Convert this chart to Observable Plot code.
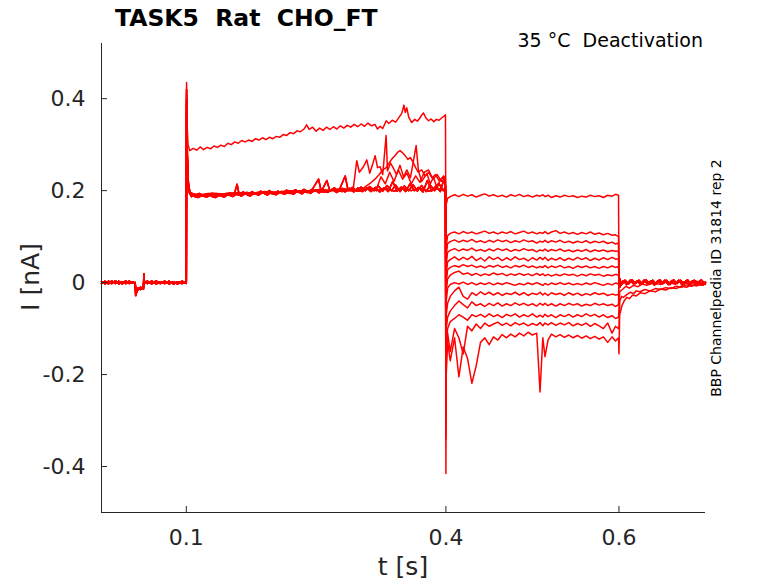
<!DOCTYPE html>
<html>
<head>
<meta charset="utf-8">
<script src="https://cdn.jsdelivr.net/npm/d3@7"></script>
<script src="https://cdn.jsdelivr.net/npm/@observablehq/plot@0.6"></script>
<style>
  html, body { margin: 0; padding: 0; background: white; }
  #wrap { position: relative; width: 778px; height: 583px; }
  #wrap > svg { position: absolute; left: 0; top: 0; }
  #overlay { position: absolute; left: 0; top: 0; pointer-events: none; }
  #overlay text { white-space: pre; font-family: "DejaVu Sans", sans-serif; }
</style>
</head>
<body>
<div id="wrap"></div>
<script>
// ---- axes ----
const xDomain = [0.002, 0.7];
const yDomain = [-0.5, 0.52];
const xTicks = [0.1, 0.4, 0.6];
const yTicks = [-0.4, -0.2, 0, 0.2, 0.4];

// ---- holding period (0 - 0.1 s) ----
const tBase = [0.002,0.006,0.01,0.014,0.018,0.022,0.026,0.03,0.034,0.038,0.041,0.0415,0.044,0.047,0.0505,0.051,0.0515,0.055,0.06,0.065,0.07,0.075,0.08,0.085,0.09,0.095,0.0998];
const baseA = [0.002,-0.003,0.003,-0.002,0.004,-0.003,0.002,-0.002,0.003,-0.001,0.0,-0.028,-0.012,-0.015,-0.01,0.019,0.003,-0.002,0.003,-0.003,0.002,-0.002,0.003,-0.003,0.002,-0.002,0.001];
const baseB = [-0.002,0.003,-0.003,0.004,-0.002,0.003,-0.003,0.004,-0.002,0.002,-0.003,-0.02,-0.016,-0.01,-0.014,0.014,-0.002,0.003,-0.003,0.004,-0.002,0.003,-0.003,0.002,-0.003,0.003,-0.001];

// ---- activation step (0.1 - 0.4 s), [t, I] ----
const actTop = [[0.1,0.002],[0.1003,0.435],[0.101,0.34],[0.102,0.30],[0.104,0.287],[0.108,0.292],[0.112,0.288],[0.116,0.295],[0.12,0.289],[0.124,0.294],[0.128,0.291],[0.132,0.297],[0.136,0.294],[0.14,0.299],[0.144,0.296],[0.148,0.303],[0.152,0.3],[0.156,0.306],[0.16,0.303],[0.164,0.309],[0.168,0.306],[0.172,0.31],[0.176,0.307],[0.18,0.313],[0.184,0.31],[0.188,0.315],[0.192,0.311],[0.196,0.316],[0.2,0.313],[0.204,0.318],[0.208,0.316],[0.212,0.322],[0.216,0.32],[0.22,0.326],[0.224,0.324],[0.228,0.33],[0.232,0.328],[0.236,0.334],[0.239,0.343],[0.242,0.333],[0.246,0.338],[0.25,0.329],[0.254,0.336],[0.258,0.331],[0.262,0.338],[0.266,0.333],[0.27,0.339],[0.274,0.334],[0.278,0.341],[0.282,0.336],[0.286,0.342],[0.29,0.338],[0.294,0.344],[0.298,0.339],[0.302,0.345],[0.306,0.34],[0.31,0.347],[0.314,0.341],[0.318,0.344],[0.321,0.334],[0.324,0.34],[0.327,0.335],[0.331,0.352],[0.334,0.346],[0.338,0.353],[0.342,0.349],[0.346,0.36],[0.349,0.368],[0.3515,0.386],[0.353,0.37],[0.3548,0.38],[0.357,0.36],[0.3605,0.348],[0.364,0.355],[0.367,0.351],[0.37,0.358],[0.372,0.364],[0.374,0.369],[0.377,0.358],[0.38,0.352],[0.383,0.356],[0.386,0.35],[0.389,0.355],[0.392,0.353],[0.395,0.358],[0.398,0.362],[0.3995,0.365]];
const actBandA = [[0.1,0.002],[0.1003,0.42],[0.101,0.3],[0.102,0.23],[0.103,0.205],[0.105,0.195],[0.11,0.19],[0.115,0.194],[0.12,0.189],[0.13,0.193],[0.14,0.19],[0.15,0.195],[0.16,0.191],[0.17,0.196],[0.18,0.192],[0.19,0.197],[0.2,0.193],[0.21,0.198],[0.22,0.194],[0.23,0.199],[0.24,0.196],[0.25,0.2],[0.26,0.197],[0.27,0.202],[0.28,0.198],[0.29,0.203],[0.3,0.199],[0.31,0.204],[0.32,0.2],[0.33,0.205],[0.34,0.199],[0.35,0.204],[0.36,0.2],[0.37,0.205],[0.38,0.199],[0.39,0.204],[0.3995,0.201]];
const actBandB = [[0.1,-0.002],[0.1003,0.4],[0.101,0.28],[0.102,0.22],[0.104,0.198],[0.107,0.19],[0.111,0.186],[0.116,0.191],[0.121,0.187],[0.126,0.192],[0.131,0.186],[0.136,0.193],[0.141,0.188],[0.146,0.194],[0.151,0.189],[0.156,0.196],[0.1587,0.214],[0.161,0.192],[0.166,0.197],[0.171,0.19],[0.176,0.198],[0.181,0.192],[0.186,0.199],[0.191,0.193],[0.196,0.2],[0.201,0.193],[0.206,0.199],[0.211,0.194],[0.216,0.201],[0.221,0.195],[0.226,0.202],[0.231,0.196],[0.236,0.203],[0.241,0.197],[0.246,0.204],[0.2528,0.225],[0.256,0.198],[0.2624,0.222],[0.266,0.199],[0.271,0.206],[0.276,0.198],[0.2836,0.232],[0.287,0.2],[0.292,0.207],[0.297,0.199],[0.302,0.208],[0.307,0.2],[0.312,0.209],[0.317,0.2],[0.322,0.21],[0.327,0.199],[0.332,0.211],[0.337,0.2],[0.342,0.212],[0.347,0.198],[0.352,0.21],[0.357,0.2],[0.362,0.213],[0.367,0.199],[0.372,0.211],[0.377,0.198],[0.382,0.212],[0.387,0.2],[0.392,0.215],[0.397,0.2],[0.3995,0.208]];
const actBandC = [[0.1,0.001],[0.1003,0.39],[0.1008,0.3],[0.102,0.21],[0.1035,0.195],[0.106,0.187],[0.1085,0.192],[0.1135,0.185],[0.1185,0.19],[0.1235,0.186],[0.1285,0.191],[0.1335,0.185],[0.1385,0.19],[0.1435,0.186],[0.1485,0.192],[0.1535,0.187],[0.1585,0.193],[0.1635,0.188],[0.1685,0.194],[0.1735,0.188],[0.1785,0.195],[0.1835,0.19],[0.1885,0.196],[0.1935,0.19],[0.1985,0.197],[0.2035,0.191],[0.2085,0.197],[0.2135,0.192],[0.2185,0.198],[0.2235,0.192],[0.2285,0.199],[0.2335,0.193],[0.2385,0.2],[0.2435,0.194],[0.2485,0.201],[0.2535,0.195],[0.2585,0.202],[0.2635,0.196],[0.2685,0.203],[0.2735,0.196],[0.2785,0.204],[0.2835,0.197],[0.2885,0.205],[0.2935,0.197],[0.2985,0.206],[0.3035,0.198],[0.3085,0.206],[0.3135,0.198],[0.3185,0.207],[0.3235,0.197],[0.3285,0.206],[0.3335,0.198],[0.3385,0.22],[0.3435,0.199],[0.3485,0.208],[0.3535,0.198],[0.3585,0.215],[0.3635,0.2],[0.3685,0.207],[0.3735,0.197],[0.3785,0.222],[0.3835,0.199],[0.3885,0.21],[0.3935,0.198],[0.3985,0.23],[0.3995,0.205]];
const actBumpy1 = [[0.1,0.0],[0.1003,0.41],[0.101,0.29],[0.102,0.22],[0.104,0.196],[0.11,0.192],[0.12,0.19],[0.135,0.194],[0.15,0.192],[0.165,0.196],[0.18,0.194],[0.195,0.198],[0.21,0.196],[0.225,0.2],[0.24,0.198],[0.255,0.203],[0.27,0.2],[0.28,0.205],[0.29,0.201],[0.293,0.205],[0.297,0.265],[0.3,0.24],[0.3047,0.252],[0.3086,0.267],[0.312,0.238],[0.315,0.255],[0.3182,0.276],[0.321,0.25],[0.324,0.252],[0.327,0.235],[0.3309,0.32],[0.3325,0.243],[0.336,0.26],[0.339,0.25],[0.343,0.235],[0.347,0.255],[0.351,0.23],[0.355,0.245],[0.359,0.228],[0.3656,0.298],[0.3683,0.243],[0.372,0.22],[0.378,0.237],[0.382,0.215],[0.3856,0.229],[0.389,0.21],[0.393,0.22],[0.3972,0.232],[0.3995,0.21]];
const actBumpy2 = [[0.1,0.003],[0.1003,0.38],[0.101,0.27],[0.102,0.215],[0.104,0.195],[0.115,0.19],[0.13,0.195],[0.145,0.191],[0.16,0.196],[0.175,0.193],[0.19,0.198],[0.205,0.195],[0.22,0.2],[0.235,0.197],[0.25,0.202],[0.265,0.199],[0.28,0.204],[0.295,0.2],[0.305,0.206],[0.312,0.215],[0.318,0.225],[0.323,0.235],[0.327,0.245],[0.331,0.25],[0.335,0.262],[0.338,0.27],[0.341,0.276],[0.344,0.283],[0.347,0.287],[0.35,0.282],[0.353,0.276],[0.356,0.268],[0.359,0.272],[0.362,0.262],[0.365,0.25],[0.368,0.24],[0.372,0.245],[0.376,0.232],[0.38,0.24],[0.384,0.228],[0.388,0.235],[0.392,0.222],[0.396,0.228],[0.3995,0.215]];
const actBumpy3 = [[0.1,-0.001],[0.1003,0.37],[0.101,0.26],[0.102,0.212],[0.104,0.194],[0.112,0.189],[0.125,0.194],[0.14,0.19],[0.155,0.195],[0.17,0.192],[0.185,0.197],[0.2,0.194],[0.215,0.199],[0.23,0.196],[0.245,0.201],[0.26,0.198],[0.275,0.203],[0.29,0.199],[0.305,0.204],[0.32,0.205],[0.325,0.23],[0.33,0.215],[0.335,0.24],[0.34,0.22],[0.345,0.245],[0.35,0.225],[0.355,0.238],[0.36,0.215],[0.365,0.232],[0.37,0.218],[0.375,0.24],[0.38,0.245],[0.385,0.225],[0.39,0.235],[0.395,0.22],[0.3995,0.225]];

// ---- deactivation steps (0.4 - 0.6 s) ----
const tDeact = [0.4,0.4004,0.402,0.405,0.41, 0.415,0.42,0.425,0.43,0.435, 0.44,0.445,0.45,0.455,0.46, 0.465,0.47,0.475,0.48,0.485, 0.49,0.495,0.5,0.505,0.5088, 0.512,0.5145,0.518,0.522,0.527, 0.532,0.537,0.542,0.547,0.552, 0.557,0.562,0.567,0.572,0.577, 0.582,0.587,0.592,0.596,0.5995];
const deact0 = [0.05,0.17,0.183,0.187,0.191, 0.187,0.192,0.188,0.191,0.186, 0.19,0.193,0.188,0.191,0.187, 0.19,0.186,0.191,0.188,0.192, 0.187,0.19,0.186,0.19,0.188, 0.191,0.187,0.19,0.185,0.189, 0.186,0.19,0.187,0.189,0.185, 0.188,0.186,0.19,0.187,0.189, 0.185,0.19,0.188,0.192,0.19];
const deact1 = [-0.02,0.08,0.102,0.107,0.11, 0.106,0.111,0.107,0.11,0.106, 0.109,0.112,0.107,0.11,0.106, 0.11,0.107,0.111,0.106,0.109, 0.112,0.107,0.11,0.106,0.109, 0.107,0.111,0.106,0.11,0.113, 0.107,0.11,0.106,0.109,0.105, 0.109,0.106,0.11,0.105,0.108, 0.104,0.107,0.103,0.104,0.1];
const deact2 = [-0.05,0.06,0.085,0.089,0.093, 0.088,0.092,0.089,0.094,0.088, 0.091,0.087,0.092,0.088,0.093, 0.089,0.092,0.087,0.091,0.088, 0.093,0.089,0.091,0.086,0.09, 0.088,0.092,0.087,0.091,0.088, 0.092,0.087,0.09,0.086,0.09, 0.087,0.091,0.086,0.09,0.087, 0.09,0.085,0.088,0.084,0.086];
const deact3 = [-0.08,0.04,0.066,0.07,0.074, 0.069,0.073,0.07,0.075,0.069, 0.072,0.068,0.073,0.069,0.074, 0.07,0.073,0.068,0.072,0.069, 0.074,0.07,0.072,0.067,0.071, 0.069,0.073,0.068,0.072,0.069, 0.073,0.068,0.071,0.067,0.071, 0.068,0.072,0.067,0.071,0.068, 0.071,0.067,0.07,0.068,0.069];
const deact4 = [-0.11,0.02,0.045,0.05,0.056, 0.049,0.055,0.05,0.057,0.048, 0.054,0.047,0.056,0.05,0.055, 0.048,0.054,0.049,0.056,0.05, 0.053,0.047,0.054,0.049,0.055, 0.05,0.055,0.048,0.053,0.049, 0.054,0.048,0.053,0.049,0.055, 0.05,0.054,0.048,0.053,0.049, 0.054,0.05,0.055,0.051,0.052];
const deact5 = [-0.14,0.0,0.028,0.033,0.037, 0.034,0.039,0.035,0.038,0.033, 0.036,0.032,0.037,0.034,0.038, 0.033,0.036,0.032,0.037,0.034, 0.038,0.033,0.036,0.032,0.035, 0.033,0.037,0.032,0.036,0.033, 0.037,0.032,0.035,0.031,0.036, 0.033,0.036,0.032,0.035,0.031, 0.035,0.032,0.036,0.033,0.035];
const deact6 = [-0.17,-0.02,0.008,0.016,0.022, 0.025,0.018,0.021,0.016,0.02, 0.015,0.019,0.016,0.021,0.017, 0.02,0.015,0.019,0.016,0.02, 0.016,0.019,0.015,0.02,0.016, 0.019,0.015,0.018,0.014,0.018, 0.015,0.019,0.016,0.018,0.014, 0.018,0.015,0.019,0.016,0.018, 0.014,0.017,0.015,0.018,0.016];
const deact7 = [-0.2,-0.04,-0.012,-0.004,0.0, -0.003,0.001,-0.004,0.0,-0.005, -0.001,-0.004,0.0,-0.005,-0.001, -0.004,0.0,-0.003,-0.006,-0.002, -0.005,-0.001,-0.004,0.0,-0.003, -0.006,-0.002,-0.005,-0.001,-0.004, 0.0,-0.004,-0.001,-0.005,-0.002, -0.005,-0.001,-0.004,0.0,-0.003, -0.006,-0.002,-0.005,-0.001,-0.003];
const deact8 = [-0.23,-0.07,-0.045,-0.03,-0.018, -0.01,-0.03,-0.036,-0.022,-0.028, -0.02,-0.026,-0.021,-0.027,-0.022, -0.028,-0.023,-0.026,-0.021,-0.027, -0.022,-0.028,-0.023,-0.026,-0.021, -0.027,-0.023,-0.028,-0.022,-0.026, -0.023,-0.028,-0.022,-0.027,-0.023, -0.028,-0.024,-0.027,-0.022,-0.026, -0.023,-0.028,-0.025,-0.027,-0.026];
const deact9 = [-0.26,-0.1,-0.075,-0.062,-0.05, -0.04,-0.048,-0.055,-0.042,-0.05, -0.046,-0.052,-0.045,-0.05,-0.044, -0.051,-0.046,-0.05,-0.044,-0.049, -0.045,-0.05,-0.046,-0.051,-0.045, -0.049,-0.045,-0.05,-0.046,-0.051, -0.046,-0.05,-0.045,-0.049,-0.046, -0.051,-0.047,-0.05,-0.045,-0.049, -0.046,-0.05,-0.047,-0.052,-0.048];
const deact10 = [-0.3,-0.14,-0.1,-0.085,-0.078, -0.07,-0.075,-0.082,-0.07,-0.074, -0.069,-0.075,-0.068,-0.074,-0.07, -0.076,-0.069,-0.073,-0.068,-0.075, -0.07,-0.074,-0.068,-0.075,-0.071, -0.075,-0.069,-0.074,-0.07,-0.076, -0.07,-0.074,-0.069,-0.075,-0.07, -0.074,-0.068,-0.073,-0.069,-0.075, -0.07,-0.076,-0.072,-0.078,-0.075];
const deact11 = [-0.34,-0.16,-0.11,-0.15,-0.1, -0.12,-0.155,-0.095,-0.105,-0.09, -0.1,-0.088,-0.095,-0.09,-0.086, -0.093,-0.088,-0.094,-0.087,-0.092, -0.088,-0.094,-0.089,-0.093,-0.087, -0.094,-0.088,-0.092,-0.087,-0.093, -0.088,-0.092,-0.087,-0.094,-0.089, -0.093,-0.088,-0.095,-0.089,-0.094, -0.1,-0.088,-0.11,-0.095,-0.1];
const deact12 = [-0.415,-0.2,-0.13,-0.17,-0.12, -0.205,-0.14,-0.165,-0.219,-0.181, -0.13,-0.12,-0.135,-0.118,-0.125, -0.113,-0.12,-0.112,-0.118,-0.11, -0.116,-0.108,-0.114,-0.11,-0.238, -0.12,-0.161,-0.125,-0.112,-0.118, -0.113,-0.119,-0.114,-0.12,-0.115, -0.121,-0.116,-0.122,-0.117,-0.123, -0.118,-0.13,-0.118,-0.127,-0.12];

// ---- tail (0.6 - 0.7 s), [t, I] ----
const tailA = [[0.6,0.0],[0.6005,0.01],[0.603,-0.004],[0.607,0.005],[0.611,-0.003],[0.615,0.006],[0.619,-0.002],[0.623,0.005],[0.627,-0.003],[0.631,0.006],[0.635,-0.002],[0.639,0.005],[0.643,-0.003],[0.647,0.006],[0.651,-0.002],[0.655,0.005],[0.659,-0.004],[0.663,0.006],[0.667,-0.002],[0.671,0.005],[0.675,-0.004],[0.679,0.006],[0.683,-0.003],[0.687,0.005],[0.691,-0.004],[0.695,0.006],[0.699,-0.002]];
const tailB = [[0.6,0.02],[0.6008,-0.01],[0.605,0.004],[0.609,-0.004],[0.613,0.005],[0.617,-0.003],[0.621,0.004],[0.625,-0.004],[0.629,0.005],[0.633,-0.003],[0.637,0.004],[0.641,-0.005],[0.645,0.004],[0.649,-0.003],[0.653,0.005],[0.657,-0.004],[0.661,0.004],[0.665,-0.003],[0.669,0.005],[0.673,-0.005],[0.677,0.003],[0.681,-0.004],[0.685,0.004],[0.689,-0.006],[0.693,0.003],[0.697,-0.005],[0.7,0.0]];
const tailMid = [[0.6,-0.06],[0.6008,-0.02],[0.604,-0.015],[0.608,-0.008],[0.612,-0.012],[0.617,-0.006],[0.622,-0.009],[0.627,-0.003],[0.632,-0.006],[0.64,-0.001],[0.648,-0.004],[0.656,0.002],[0.664,-0.003],[0.672,0.003],[0.68,-0.002],[0.688,0.004],[0.695,-0.001],[0.7,0.002]];
const tailLow1 = [[0.6,-0.1],[0.601,-0.04],[0.603,-0.03],[0.605,-0.032],[0.609,-0.026],[0.613,-0.021],[0.617,-0.024],[0.62,-0.018],[0.624,-0.02],[0.63,-0.015],[0.636,-0.018],[0.642,-0.013],[0.648,-0.015],[0.654,-0.011],[0.66,-0.013],[0.666,-0.008],[0.672,-0.01],[0.678,-0.005],[0.684,-0.008],[0.69,-0.003],[0.695,-0.006],[0.7,-0.002]];
const tailLow2 = [[0.6,-0.155],[0.6008,-0.07],[0.6035,-0.05],[0.606,-0.04],[0.609,-0.032],[0.612,-0.035],[0.616,-0.027],[0.62,-0.029],[0.625,-0.022],[0.63,-0.024],[0.636,-0.018],[0.642,-0.02],[0.648,-0.014],[0.654,-0.016],[0.66,-0.011],[0.666,-0.013],[0.672,-0.008],[0.678,-0.01],[0.684,-0.005],[0.69,-0.007],[0.695,-0.003],[0.7,-0.004]];

// ---- assembly of the 13 sweeps ----
const sweepBase = [baseA, baseB, baseA, baseB, baseA, baseB, baseA, baseB, baseA, baseB, baseA, baseB, baseA];
const sweepAct = [actTop, actBandA, actBandB, actBandC, actBumpy1, actBandA, actBumpy2, actBandB, actBumpy3, actBandC, actBandA, actBandB, actBandC];
const sweepDeact = [deact0, deact1, deact2, deact3, deact4, deact5, deact6, deact7, deact8, deact9, deact10, deact11, deact12];
const sweepTail = [tailA, tailB, tailA, tailB, tailA, tailB, tailA, tailB, tailA, tailB, tailMid, tailLow1, tailLow2];

const data = [];
for (let k = 0; k < sweepDeact.length; k++) {
  tBase.forEach((t, j) => data.push({sweep: k, t, I: sweepBase[k][j]}));
  sweepAct[k].forEach(([t, v]) => data.push({sweep: k, t, I: v}));
  tDeact.forEach((t, j) => data.push({sweep: k, t, I: sweepDeact[k][j]}));
  sweepTail[k].forEach(([t, v]) => data.push({sweep: k, t, I: v}));
}

const W = 778, H = 583, mL = 101, mR = 73, mT = 43, mB = 71;
const axisColor = "#262626";
const fmt = d => String(d);

const chart = Plot.plot({
  width: W, height: H,
  marginLeft: mL, marginRight: mR, marginTop: mT, marginBottom: mB,
  x: {domain: xDomain},
  y: {domain: yDomain},
  style: {fontFamily: "DejaVu Sans, sans-serif", fontSize: "22px", color: axisColor, background: "white", overflow: "visible"},
  marks: [
    Plot.line(data, {x: "t", y: "I", z: "sweep", stroke: "#ff0000", strokeWidth: 1.5}),
    Plot.ruleX([xDomain[0]], {stroke: axisColor, strokeWidth: 1}),
    Plot.ruleY([yDomain[0]], {stroke: axisColor, strokeWidth: 1}),
    Plot.tickY(yTicks, {y: d => d, insetRight: (W - mL - mR) - 6, stroke: axisColor}),
    Plot.tickX(xTicks, {x: d => d, insetTop: (H - mT - mB) - 6, stroke: axisColor}),
    Plot.axisY({ticks: yTicks, tickSize: 0, tickPadding: 16, tickFormat: fmt, label: null}),
    Plot.axisX({ticks: xTicks, tickSize: 0, tickPadding: 17, tickFormat: fmt, label: null})
  ]
});

const wrap = document.getElementById("wrap");
wrap.appendChild(chart);

const ns = "http://www.w3.org/2000/svg";
const ov = document.createElementNS(ns, "svg");
ov.setAttribute("id", "overlay");
ov.setAttribute("width", W);
ov.setAttribute("height", H);
function addText(str, attrs) {
  const t = document.createElementNS(ns, "text");
  for (const [k, v] of Object.entries(attrs)) t.setAttribute(k, v);
  t.textContent = str;
  ov.appendChild(t);
}
addText("TASK5  Rat  CHO_FT", {x: 115, y: 26, "font-size": 23.5, "font-weight": "bold", fill: "#000"});
addText("35 °C  Deactivation", {x: 703, y: 47, "font-size": 19, "text-anchor": "end", fill: "#000"});
addText("BBP Channelpedia ID 31814 rep 2", {x: 0, y: 0, "font-size": 14, "text-anchor": "middle", fill: "#000", transform: "translate(721,278) rotate(-90)"});
addText("I [nA]", {x: 0, y: 0, "font-size": 25, "text-anchor": "middle", fill: axisColor, transform: "translate(39,277) rotate(-90)"});
addText("t [s]", {x: (mL + W - mR) / 2, y: 575, "font-size": 25, "text-anchor": "middle", fill: axisColor});
wrap.appendChild(ov);
</script>
</body>
</html>
